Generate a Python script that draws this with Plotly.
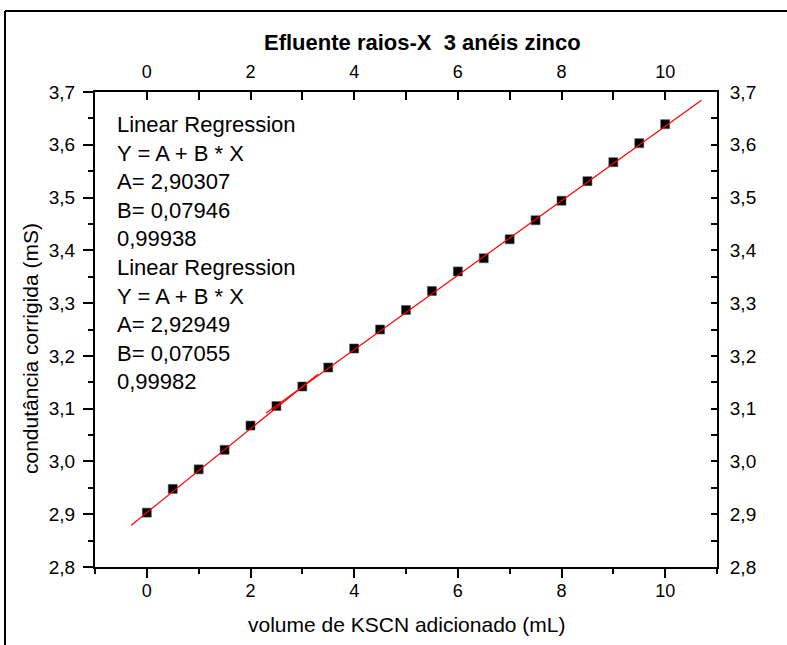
import numpy as np
import plotly.graph_objects as go

# Conductance titration data
volume_ml = [0, 0.5, 1, 1.5, 2, 2.5, 3, 3.5, 4, 4.5, 5, 5.5, 6, 6.5, 7, 7.5, 8, 8.5, 9, 9.5, 10]
conductance_ms = [2.903, 2.948, 2.985, 3.022, 3.068, 3.105, 3.142, 3.178, 3.214, 3.250, 3.287,
                  3.323, 3.360, 3.385, 3.421, 3.457, 3.494, 3.531, 3.567, 3.603, 3.639]

# Two linear regressions: first segment (0-3 mL) and second segment (3-10 mL)
fit1_A, fit1_B, fit1_R = 2.90307, 0.07946, "0,99938"
fit1_span = (0, 3)
fit2_A, fit2_B, fit2_R = 2.92949, 0.07055, "0,99982"
fit2_span = (3, 10)

x_ticks = [0, 2, 4, 6, 8, 10]
y_ticks = [2.8, 2.9, 3.0, 3.1, 3.2, 3.3, 3.4, 3.5, 3.6, 3.7]

W, H = 787, 645
L, R, T, B = 95, 717, 92, 567

FONT = "Liberation Sans, Arial, sans-serif"
NARROW = "Liberation Sans Narrow, Arial Narrow, Liberation Sans, Arial, sans-serif"


def fit_line(A, Bc, span):
    lo, hi = span
    ext = 0.1 * (hi - lo)
    xs = np.array([lo - ext, hi + ext])
    return xs, A + Bc * xs


fig = go.Figure()

fig.add_trace(go.Scatter(
    x=volume_ml, y=conductance_ms, mode="markers",
    marker=dict(symbol="square", size=9, color="black",
                line=dict(width=0.6, color="#555")),
    showlegend=False, hoverinfo="skip"))

for A, Bc, span in [(fit1_A, fit1_B, fit1_span), (fit2_A, fit2_B, fit2_span)]:
    xs, ys = fit_line(A, Bc, span)
    fig.add_trace(go.Scatter(x=xs, y=ys, mode="lines",
                             line=dict(color="#ff0000", width=1.2),
                             showlegend=False, hoverinfo="skip"))

# invisible trace that carries the mirrored top/right axes
fig.add_trace(go.Scatter(x=volume_ml, y=conductance_ms, xaxis="x2", yaxis="y2",
                         mode="markers", marker=dict(opacity=0),
                         showlegend=False, hoverinfo="skip"))

axis_common = dict(showline=True, linecolor="black", linewidth=2, showgrid=False,
                   zeroline=False, tickcolor="black", tickwidth=1.5)

fig.update_layout(
    width=W, height=H,
    margin=dict(l=L, r=W - R, t=T, b=H - B),
    paper_bgcolor="white", plot_bgcolor="white",
    separators=", ",
    font=dict(family=FONT, color="black"),
    xaxis=dict(range=[-1, 11], tickvals=x_ticks, ticks="outside", ticklen=9,
               minor=dict(dtick=1, ticks="outside", ticklen=5, tickcolor="black", tickwidth=1.5),
               tickfont=dict(size=18, family=FONT), ticklabelstandoff=-3, **axis_common),
    yaxis=dict(range=[2.8, 3.7], tickvals=y_ticks, tickformat=".1f", ticks="outside",
               ticklen=10, minor=dict(dtick=0.05, ticks="outside", ticklen=5,
                                      tickcolor="black", tickwidth=1.5),
               tickfont=dict(size=19, family=FONT), ticklabelstandoff=4, **axis_common),
    xaxis2=dict(range=[-1, 11], tickvals=x_ticks, overlaying="x", side="top", anchor="y2",
                ticks="inside", ticklen=8,
                minor=dict(dtick=1, ticks="inside", ticklen=8, tickcolor="black", tickwidth=1.5),
                tickfont=dict(size=18, family=NARROW), ticklabelstandoff=5, **axis_common),
    yaxis2=dict(range=[2.8, 3.7], tickvals=y_ticks, tickformat=".1f", overlaying="y",
                side="right", anchor="x2", ticks="inside", ticklen=6,
                minor=dict(dtick=0.05, ticks="inside", ticklen=6, tickcolor="black", tickwidth=1.5),
                tickfont=dict(size=19, family=FONT), ticklabelstandoff=7, **axis_common),
)

# regression report text
report = "<br>".join([
    "Linear Regression", "Y = A + B * X",
    f"A= {fit1_A:.5f}".replace(".", ","), f"B= {fit1_B:.5f}".replace(".", ","), fit1_R,
    "Linear Regression", "Y = A + B * X",
    f"A= {fit2_A:.5f}".replace(".", ","), f"B= {fit2_B:.5f}".replace(".", ","), fit2_R,
])
fig.add_annotation(text=report, xref="paper", yref="paper",
                   x=(115 - L) / (R - L), y=(B - 252.5) / (B - T),
                   xanchor="left", yanchor="middle", align="left", showarrow=False,
                   font=dict(size=22, family=FONT, color="black"))

# title and axis titles
fig.add_annotation(text="<b>Efluente raios-X  3 anéis zinco</b>", xref="paper", yref="paper",
                   x=(422 - L) / (R - L), y=(B - 43) / (B - T), xanchor="center",
                   yanchor="middle", showarrow=False,
                   font=dict(size=22, family=FONT, color="black"))
fig.add_annotation(text="volume de KSCN adicionado (mL)", xref="paper", yref="paper",
                   x=(406 - L) / (R - L), y=(B - 624) / (B - T), xanchor="center",
                   yanchor="middle", showarrow=False,
                   font=dict(size=21, family=FONT, color="black"))
fig.add_annotation(text="condutância corrigida (mS)", xref="paper", yref="paper",
                   x=(30 - L) / (R - L), y=(B - 349) / (B - T), xanchor="center",
                   yanchor="middle", textangle=-90, showarrow=False,
                   font=dict(size=21, family=FONT, color="black"))

# outer frame of the figure panel
px = lambda v: (v - L) / (R - L)
py = lambda v: (B - v) / (B - T)
fig.add_shape(type="line", xref="paper", yref="paper", x0=px(5), x1=px(W + 5),
              y0=py(11), y1=py(11), line=dict(color="black", width=2))
fig.add_shape(type="line", xref="paper", yref="paper", x0=px(5), x1=px(5),
              y0=py(11), y1=py(H + 5), line=dict(color="black", width=2))

fig.write_html("out.html")
